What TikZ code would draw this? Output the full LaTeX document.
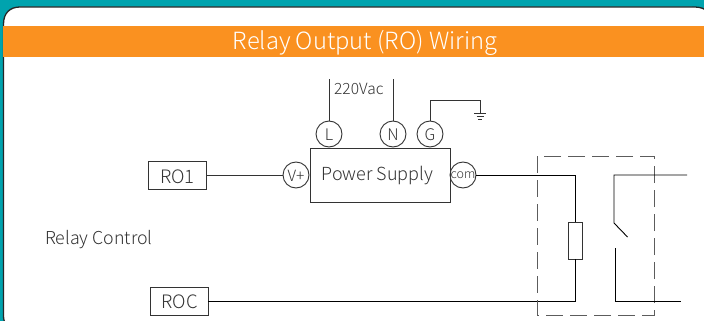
\documentclass[tikz,border=0pt]{standalone}
\usepackage{fontspec}
\setmainfont{Noto Sans CJK SC Light}
\definecolor{teal1}{HTML}{00A3AE}
\definecolor{orange1}{HTML}{FA9120}
\definecolor{ink}{HTML}{333333}
\tikzset{
  lbl/.style={text=ink,font=\fontsize{17.8}{20}\selectfont,inner sep=0pt},
  tag/.style={draw=ink,line width=0.9pt,minimum width=#1,minimum height=28pt,inner sep=0pt},
  term/.style={circle,draw=ink,line width=0.9pt,minimum size=26pt,inner sep=0pt},
  termtext/.style={text=ink,font=\fontsize{#1}{#1}\selectfont,inner sep=0pt},
  wire/.style={draw=black,line width=0.9pt},
  thin wire/.style={draw=ink,line width=0.9pt}
}
\begin{document}
\begin{tikzpicture}[x=1pt,y=-1pt]
\useasboundingbox (0,0) rectangle (704,321);
\fill[teal1] (0,0) rectangle (704,321);
\fill[white,draw=black!85,line width=1.3pt] (5,323) .. controls (3.5,319) and (3.5,318) .. (3.5,316) -- (3.5,24) .. controls (3.5,13) and (10,7) .. (20,7) -- (692,7) .. controls (697,7) and (701,7) .. (706,10) -- (706,323) -- cycle;
\fill[orange1] (3,26) rectangle (704,57);
\node[inner sep=0pt,text=white,font=\fontsize{23.7}{26}\selectfont] (title) at (365,43) {Relay Output (RO) Wiring};

\node[tag=58pt] (ro1) at (177,175) {};
\node[termtext=18.5] (ro1t) at (177.5,177) {RO1};
\node[tag=58pt] (roc) at (179,301) {};
\node[termtext=18.5] (roct) at (179.5,302) {ROC};
\node[lbl,anchor=west] (rc) at (45,239.5) {Relay Control};
\node[draw=ink,line width=0.9pt,minimum width=140pt,minimum height=54pt,inner sep=0pt] (ps) at (380,175) {};
\node[termtext=18] (pst) at (377.5,175.5) {Power Supply};
\node[term] (vp) at (296,175) {};
\node[termtext=15.5] (vpt) at (296,176) {V+};
\node[term] (com) at (463,175) {};
\node[termtext=12.5] (comt) at (463,175.5) {com};
\node[term] (l) at (329,134) {};
\node[termtext=16] (lt) at (329,134.5) {L};
\node[term] (n) at (393,134) {};
\node[termtext=16] (nt) at (393,134.5) {N};
\node[term] (g) at (430,134) {};
\node[termtext=16] (gt) at (430,134.5) {G};
\node[text=ink,inner sep=0pt,font=\fontsize{15.5}{18}\selectfont,anchor=west] (vac) at (334,89) {220Vac};

\coordinate (ltop) at (329,79);
\coordinate (ntop) at (393,79);
\coordinate (gnd) at (480,113);
\draw[thin wire] (l) -- (ltop);
\draw[thin wire] (n) -- (ntop);
\draw[thin wire] (g) |- (455,100.5) -| (gnd);
\draw[thin wire] (474,113.5) -- (486,113.5) (476.5,116.5) -- (483.5,116.5) (478,119.5) -- (482,119.5);
\draw[thin wire] (ro1) -- (vp);

% relay
\node[draw=ink,line width=0.9pt,minimum width=14pt,minimum height=37pt,inner sep=0pt] (coil) at (575.5,240.5) {};
\draw[wire] (com) -| (coil.north);
\draw[wire] (roc) -| (coil.south);
\draw[draw=ink!80,line width=1pt,dash pattern=on 17pt off 7pt] (537,156) rectangle (654,315);
\coordinate (c1) at (687,175);
\coordinate (c2) at (614,175);
\coordinate (c3) at (614,223);
\coordinate (c4) at (627.5,237);
\coordinate (c5) at (615,248);
\coordinate (c6) at (615,301);
\coordinate (c7) at (681,301);
\draw[wire] (c1) -- (c2) -- (c3) -- (c4);
\draw[wire] (c5) -- (c6) -- (c7);
\end{tikzpicture}
\end{document}
